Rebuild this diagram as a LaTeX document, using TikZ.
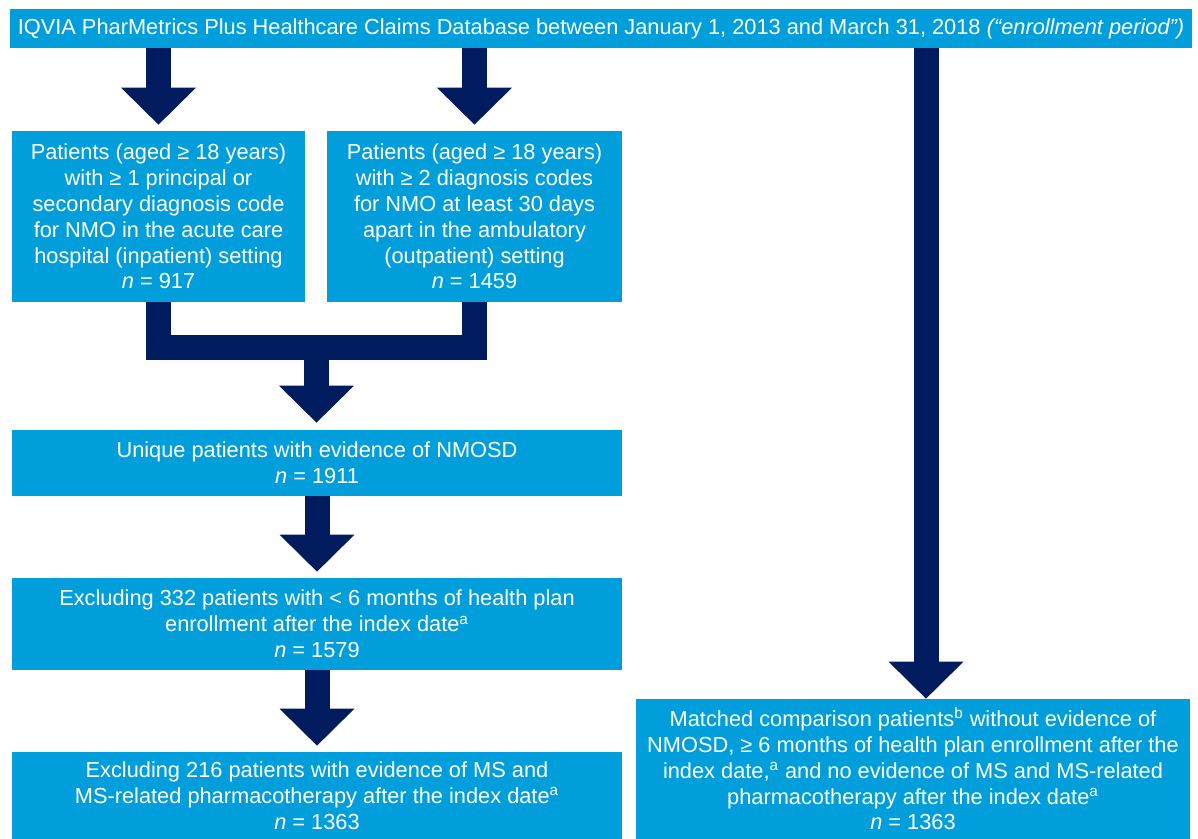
\documentclass[tikz,border=0pt]{standalone}
\usepackage{fontspec}
\setmainfont{Liberation Sans}
\usetikzlibrary{arrows.meta, calc, positioning}
\definecolor{iqblue}{HTML}{009FDB}
\definecolor{iqnavy}{HTML}{001B5E}

\begin{document}
\begin{tikzpicture}[box/.style={fill=iqblue, text=white, inner sep=0pt, align=center,
    font=\fontsize{12.4}{14.7}\selectfont},
  fat/.style={draw=iqnavy, line width=0.5cm},
  fatarrow/.style={fat, -{Triangle[width=1.5cm, length=0.74cm, line width=0pt]}, shorten >=0.12cm}]
\useasboundingbox (0,0) rectangle (23.96,-16.78);
\node[box, minimum width=23.64cm, minimum height=0.78cm] (db) at (12.02,-0.57)
  {IQVIA PharMetrics Plus Healthcare Claims Database between January 1, 2013 and March 31, 2018 \textit{(“enrollment period”)}};
\node[box, minimum width=5.86cm, minimum height=3.42cm] (inpt) at (3.17,-4.33)
  {Patients (aged ≥ 18 years)\\with ≥ 1 principal or\\secondary diagnosis code\\for NMO in the acute care\\hospital (inpatient) setting\\\textit{n} = 917};
\node[box, minimum width=5.9cm, minimum height=3.42cm] (outpt) at (9.49,-4.33)
  {Patients (aged ≥ 18 years)\\with ≥ 2 diagnosis codes\\for NMO at least 30 days\\apart in the ambulatory\\(outpatient) setting\\\textit{n} = 1459};
\node[box, minimum width=12.2cm, minimum height=1.32cm] (uniq) at (6.34,-9.26)
  {Unique patients with evidence of NMOSD\\\textit{n} = 1911};
\node[box, minimum width=12.2cm, minimum height=1.84cm] (excl6) at (6.34,-12.48)
  {Excluding 332 patients with < 6 months of health plan\\enrollment after the index date\textsuperscript{a}\\\textit{n} = 1579};
\node[box, minimum width=12.2cm, minimum height=1.74cm] (exclms) at (6.34,-15.91)
  {Excluding 216 patients with evidence of MS and\\MS-related pharmacotherapy after the index date\textsuperscript{a}\\\textit{n} = 1363};
\node[box, minimum width=11.08cm, minimum height=2.8cm] (match) at (18.26,-15.38)
  {Matched comparison patients\textsuperscript{b} without evidence of\\NMOSD, ≥ 6 months of health plan enrollment after the\\index date,\textsuperscript{a} and no evidence of MS and MS-related\\pharmacotherapy after the index date\textsuperscript{a}\\\textit{n} = 1363};

% database to the three branches
\draw[fatarrow] (db.south -| inpt) -- (inpt.north);
\draw[fatarrow] (db.south -| outpt) -- (outpt.north);
\coordinate (tap) at (18.52,0);
\draw[fatarrow, shorten >=0pt] (db.south -| tap) -- (match.north -| tap);

% merge of the two NMO groups
\draw[fat] (inpt.south) -- ++(0,-0.9) -| (outpt.south);
\coordinate (join) at ($(inpt.south)!0.5!(outpt.south) + (0,-0.9)$);
\draw[fatarrow, shorten >=0.14cm] (join) -- (join |- uniq.north);

\draw[fatarrow] (uniq) -- (excl6);
\draw[fatarrow] (excl6) -- (exclms);
\end{tikzpicture}
\end{document}
